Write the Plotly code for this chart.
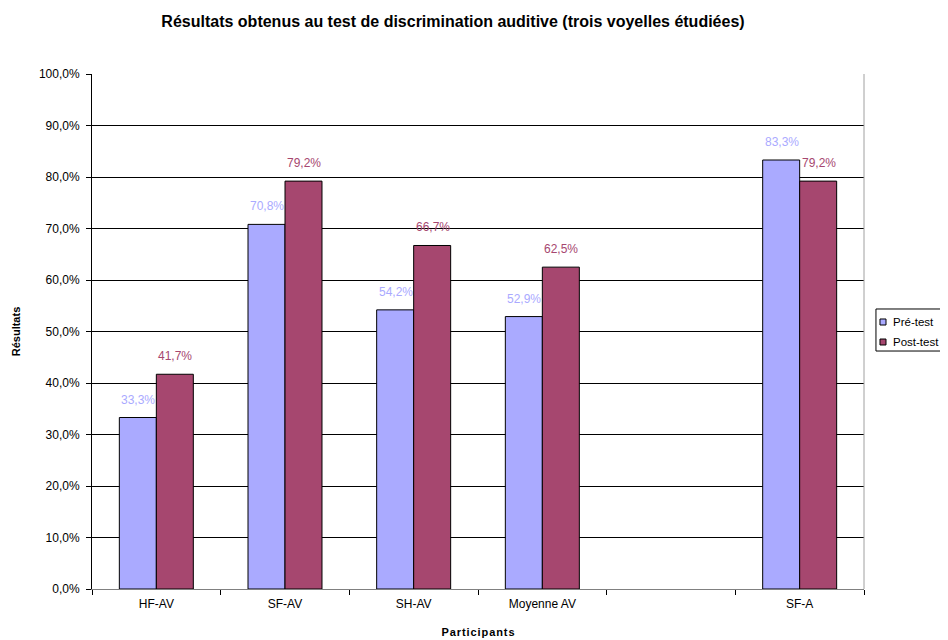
import plotly.graph_objects as go

categories = ["HF-AV", "SF-AV", "SH-AV", "Moyenne AV", " ", "SF-A"]
pre_test = [33.3, 70.8, 54.2, 52.9, None, 83.3]
post_test = [41.7, 79.2, 66.7, 62.5, None, 79.2]
pre_labels = ["33,3%", "70,8%", "54,2%", "52,9%", "", "83,3%"]
post_labels = ["41,7%", "79,2%", "66,7%", "62,5%", "", "79,2%"]
y_ticks = [0, 10, 20, 30, 40, 50, 60, 70, 80, 90, 100]
y_tick_labels = ["0,0%", "10,0%", "20,0%", "30,0%", "40,0%", "50,0%",
                 "60,0%", "70,0%", "80,0%", "90,0%", "100,0%"]
series_names = ["Pré-test", "Post-test"]

PRE_COLOR = "#aaaaff"
POST_COLOR = "#a6476f"
FONT = "Liberation Sans, Arial, sans-serif"

fig = go.Figure()
fig.add_trace(go.Bar(name=series_names[0], x=categories, y=pre_test, showlegend=False,
                     marker=dict(color=PRE_COLOR, line=dict(color="black", width=1))))
fig.add_trace(go.Bar(name=series_names[1], x=categories, y=post_test, showlegend=False,
                     marker=dict(color=POST_COLOR, line=dict(color="black", width=1))))

annotations = []
for c, v, t in zip(categories, pre_test, pre_labels):
    if v is not None:
        annotations.append(dict(x=c, y=v, text=t, showarrow=False, xshift=-18,
                                yshift=9, yanchor="bottom",
                                font=dict(color=PRE_COLOR, size=12, family=FONT)))
for c, v, t in zip(categories, post_test, post_labels):
    if v is not None:
        annotations.append(dict(x=c, y=v, text=t, showarrow=False, xshift=19,
                                yshift=9, yanchor="bottom",
                                font=dict(color=POST_COLOR, size=12, family=FONT)))

# custom legend (box, swatches, labels) placed like the reference
legend_text_y = [0.5184, 0.4796]
legend_sw = [(0.5243, 0.5126), (0.4854, 0.4738)]
for name, ty in zip(series_names, legend_text_y):
    annotations.append(dict(xref="paper", yref="paper", x=1.0350, y=ty, text=name,
                            showarrow=False, xanchor="left", yanchor="middle",
                            font=dict(size=11.5, family=FONT, color="black")))

shapes = [
    dict(type="line", xref="paper", yref="paper", x0=1, x1=1, y0=0, y1=1,
         line=dict(color="#a0a0a0", width=1)),
    dict(type="rect", xref="paper", yref="paper", x0=1.0155, x1=1.12, y0=0.4621, y1=0.5437,
         line=dict(color="black", width=1), fillcolor="white", layer="above"),
]
for (y1, y0), col in zip(legend_sw, [PRE_COLOR, POST_COLOR]):
    shapes.append(dict(type="rect", xref="paper", yref="paper", x0=1.0207, x1=1.0285,
                       y0=y0, y1=y1, line=dict(color="black", width=1), fillcolor=col,
                       layer="above"))

fig.update_layout(
    width=940, height=632,
    margin=dict(l=84, r=84, t=66, b=51, autoexpand=False),
    paper_bgcolor="white", plot_bgcolor="white",
    font=dict(family=FONT, size=12, color="black"),
    barmode="group", bargap=0.425, bargroupgap=0,
    showlegend=False,
    title=dict(text="<b>Résultats obtenus au test de discrimination auditive (trois voyelles étudiées)</b>",
               x=0.4734, xanchor="center", y=0.979, yanchor="middle",
               font=dict(size=16, family=FONT, color="black")),
    annotations=annotations,
    shapes=shapes,
    xaxis=dict(showline=True, linecolor="#808080", linewidth=1,
               ticks="outside", tickson="boundaries", ticklen=5, tickcolor="black",
               tickfont=dict(size=12), showgrid=False, ticklabelstandoff=4,
               title=dict(text="<b>P a r t i c i p a n t s</b>".replace(" ", "\u200a"),
                          font=dict(size=11), standoff=17)),
    yaxis=dict(range=[0, 100], tickvals=y_ticks, ticktext=y_tick_labels,
               showline=True, linecolor="black", linewidth=1,
               ticks="outside", ticklen=5, tickcolor="black",
               showgrid=True, gridcolor="black", gridwidth=1,
               tickfont=dict(size=12), zeroline=False, ticklabelstandoff=4,
               title=dict(text="<b>Résultats</b>", font=dict(size=11), standoff=16)),
)

fig.write_html("out.html")
